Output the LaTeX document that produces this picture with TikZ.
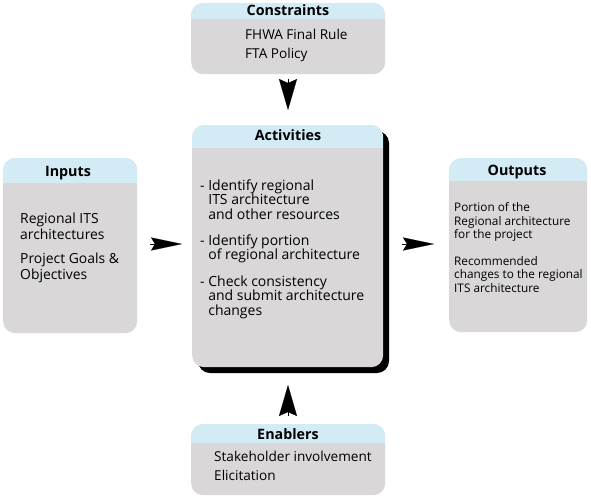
\documentclass[tikz,border=0pt]{standalone}
\usepackage{fontspec}
\setmainfont{Open Sans}
\usetikzlibrary{arrows.meta}
\definecolor{bodygray}{HTML}{D9D7D8}
\definecolor{hdrblue}{HTML}{D3EBF4}
\tikzset{
  panel/.style={fill=bodygray, draw=none, rounded corners=12pt, anchor=north west, inner sep=0pt},
  hdrtxt/.style={font=\fontsize{14.3}{15}\selectfont\bfseries, inner sep=0pt, anchor=base},
  bodytxt/.style={font=\fontsize{14}{14.5}\selectfont, align=left, inner sep=0pt, anchor=base west},
  bigtxt/.style={font=\fontsize{13.6}{19}\selectfont, align=left, inner sep=0pt, anchor=base west},
  smalltxt/.style={font=\fontsize{11.8}{13.5}\selectfont, align=left, inner sep=0pt, anchor=base west},
  vtip/.style={-{Stealth[length=31pt,width=18pt,inset=4pt]}, line width=0.1pt, black},
  htip/.style={-{Stealth[length=31pt,width=13pt,inset=4pt]}, line width=0.1pt, black}
}
\newcommand{\hdrfill}[2]{% node name, header bottom-right corner
  \begin{scope}
    \clip[rounded corners=12pt] (#1.north west) rectangle (#1.south east);
    \fill[hdrblue] (#1.north west) rectangle (#2);
  \end{scope}}
\begin{document}
\begin{tikzpicture}[x=1pt,y=-1pt]
\useasboundingbox (0,0) rectangle (591,499);
% Constraints
\node[panel, minimum width=194pt, minimum height=71pt] (con) at (191,3) {};
\hdrfill{con}{385,19}
\node[hdrtxt] (conh) at (288,15) {Constraints};
\node[bigtxt] (cont) at (245,58) {FHWA Final Rule\\FTA Policy};
% Activities shadow
\fill[black, rounded corners=12pt] (198,131) rectangle (389,373);
\node[panel, minimum width=191pt, minimum height=242pt] (act) at (192,125) {};
\hdrfill{act}{383,148}
\node[hdrtxt] (acth) at (288,140) {Activities};
\node[bodytxt] (actt) at (200,315) {- Identify regional\\\hphantom{- }ITS architecture\\\hphantom{- }and other resources\\[11.5pt]- Identify portion\\\hphantom{- }of regional architecture\\[12pt]- Check consistency\\\hphantom{- }and submit architecture\\\hphantom{- }changes};
% Inputs
\node[panel, minimum width=134pt, minimum height=175pt] (inp) at (3,158) {};
\hdrfill{inp}{137,183}
\node[hdrtxt] (inph) at (68,176) {Inputs};
\node[bodytxt, font=\fontsize{13.9}{16}\selectfont] (inpt) at (20,279) {Regional ITS\\architectures\\[8pt]Project Goals \&\\Objectives};
% Outputs
\node[panel, minimum width=138pt, minimum height=174pt] (out) at (449,158) {};
\hdrfill{out}{587,181}
\node[hdrtxt] (outh) at (517,175) {Outputs};
\node[smalltxt] (outt) at (454,292) {Portion of the\\Regional architecture\\for the project\\[13pt]Recommended\\changes to the regional\\ITS architecture};
% Enablers
\node[panel, minimum width=194pt, minimum height=71pt] (ena) at (191,424) {};
\hdrfill{ena}{385,443}
\node[hdrtxt] (enah) at (288,439) {Enablers};
\node[bigtxt] (enat) at (214,480) {Stakeholder involvement\\Elicitation};
% Arrow tips
\coordinate (a1s) at (288,79);  \coordinate (a1e) at (288,110);
\coordinate (a2s) at (288,416); \coordinate (a2e) at (288,385);
\coordinate (a3s) at (150,244); \coordinate (a3e) at (182,244);
\coordinate (a4s) at (402,244); \coordinate (a4e) at (434,244);
\draw[vtip] (a1s) -- (a1e);
\draw[vtip] (a2s) -- (a2e);
\draw[htip] (a3s) -- (a3e);
\draw[htip] (a4s) -- (a4e);
\end{tikzpicture}
\end{document}
